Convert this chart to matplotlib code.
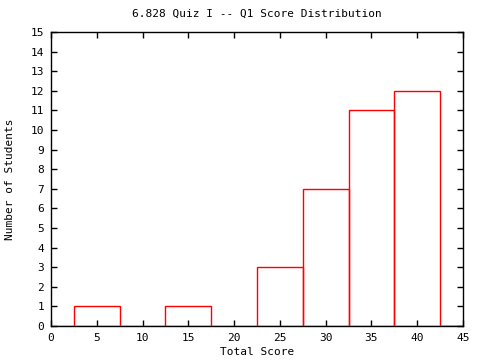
import matplotlib
matplotlib.use("Agg")
import matplotlib.pyplot as plt

# Score bins (centres) and student counts
bin_centers = [0, 5, 10, 15, 20, 25, 30, 35, 40, 45]
counts = [0, 1, 0, 1, 0, 3, 7, 11, 12, 0]

plt.rcParams['font.family'] = 'DejaVu Sans Mono'
plt.rcParams['font.size'] = 8

fig = plt.figure(figsize=(4.8, 3.6), dpi=100)
ax = fig.add_axes([51 / 480, 1 - 326 / 360, 412 / 480, 294 / 360])

ax.bar(bin_centers, counts, width=5, fill=False, edgecolor='red',
       linewidth=1.0, zorder=3)

ax.set_xlim(0, 45)
ax.set_ylim(0, 15)
ax.set_xticks(range(0, 46, 5))
ax.set_yticks(range(0, 16))
ax.tick_params(direction='in', length=4, width=1, top=True, right=True,
               labeltop=False, labelright=False, pad=5)
for s in ax.spines.values():
    s.set_linewidth(1)

ax.set_title('6.828 Quiz I -- Q1 Score Distribution', fontsize=8, pad=11)
ax.set_xlabel('Total Score', labelpad=3)
ax.set_ylabel('Number of Students', labelpad=11)

fig.savefig('out.png', dpi=100)
